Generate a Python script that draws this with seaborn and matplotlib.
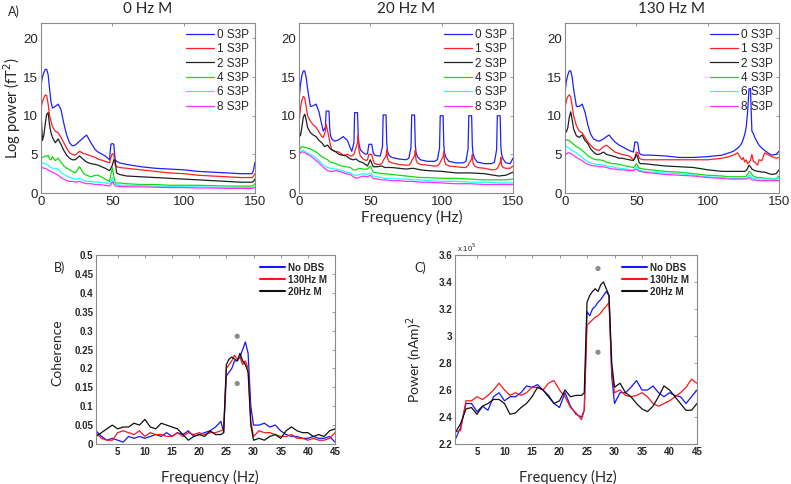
import numpy as np
import matplotlib
matplotlib.use("Agg")
import matplotlib.pyplot as plt
from matplotlib.ticker import FormatStrFormatter
import seaborn as sns

# ---------------- data: panel A (log power spectra) ----------------
labels_a = ["0 S3P", "1 S3P", "2 S3P", "4 S3P", "6 S3P", "8 S3P"]
colors_a = ["#2020ff", "#ff2020", "#202020", "#10dd10", "#20ffff", "#ff30ff"]

# 0 Hz M
freq_0hz = [0, 1, 2, 3, 4, 5, 6, 7, 8, 10, 12, 14, 16, 18, 20, 22, 24, 27, 30, 32,
            35, 38, 40, 45, 48, 49, 50, 51, 52, 53, 55, 60, 70, 80, 90, 100, 110,
            120, 130, 140, 148, 149, 150]
p0_s0 = [14.0, 15.0, 15.6, 16.0, 16.0, 15.3, 13.5, 11.8, 11.0, 11.2, 11.5, 10.8, 9.0, 7.5, 6.5, 6.1, 6.2, 6.7, 7.2, 7.5,
         6.5, 5.6, 5.3, 4.8, 4.3, 6.3, 6.4, 6.3, 4.3, 4.1, 3.9, 3.7, 3.4, 3.2, 3.1, 3.0, 2.8,
         2.7, 2.6, 2.5, 2.5, 3.0, 4.0]
p0_s1 = [11.0, 11.8, 12.3, 12.7, 12.6, 11.5, 10.0, 9.3, 8.6, 8.0, 7.8, 7.2, 6.5, 5.8, 5.2, 5.0, 4.9, 5.4, 5.1, 5.0,
         4.8, 4.6, 4.4, 4.1, 3.9, 4.6, 5.1, 5.0, 3.6, 3.4, 3.3, 3.2, 3.0, 2.8, 2.6, 2.5, 2.3,
         2.2, 2.1, 2.0, 2.0, 2.2, 2.5]
p0_s2 = [10.5, 6.8, 7.5, 9.0, 10.2, 10.4, 8.8, 7.8, 7.2, 6.5, 7.0, 6.3, 5.5, 4.9, 4.5, 4.3, 4.3, 4.8, 4.3, 4.0,
         3.8, 3.7, 3.6, 3.2, 2.9, 3.2, 3.6, 4.3, 4.2, 2.6, 2.4, 2.2, 2.1, 2.0, 1.9, 1.8, 1.7,
         1.6, 1.5, 1.4, 1.4, 1.5, 1.8]
p0_s4 = [4.5, 4.6, 4.7, 4.8, 4.7, 4.9, 4.4, 4.3, 4.7, 4.2, 4.5, 4.0, 3.5, 3.2, 3.0, 2.8, 2.6, 3.4, 2.5, 2.3,
         2.1, 2.3, 2.3, 1.8, 1.5, 2.4, 3.3, 2.2, 1.3, 1.3, 1.3, 1.2, 1.1, 1.1, 1.0, 1.0, 1.0,
         0.95, 0.9, 0.9, 0.9, 1.0, 1.2]
p0_s6 = [3.8, 3.8, 3.9, 3.8, 3.7, 3.6, 3.4, 3.3, 3.2, 3.2, 3.1, 2.7, 2.4, 2.2, 2.0, 1.9, 1.8, 1.9, 1.6, 1.5,
         1.5, 1.4, 1.4, 1.3, 1.2, 1.5, 2.0, 1.5, 1.1, 1.1, 1.0, 1.0, 0.95, 0.9, 0.85, 0.8, 0.8,
         0.75, 0.75, 0.7, 0.7, 0.75, 0.8]
p0_s8 = [3.3, 3.3, 3.2, 3.2, 3.1, 3.0, 2.9, 2.8, 2.7, 2.5, 2.3, 2.0, 1.8, 1.6, 1.5, 1.5, 1.4, 1.5, 1.3, 1.2,
         1.2, 1.1, 1.1, 1.0, 0.9, 1.1, 1.5, 1.2, 0.9, 0.9, 0.85, 0.8, 0.8, 0.75, 0.7, 0.7, 0.65,
         0.65, 0.6, 0.6, 0.6, 0.65, 0.7]

# 20 Hz M: fine grid for the two peaky traces, coarse grid for the others
freq_20hz_fine = [0, 1, 2, 3, 4, 5, 6, 8, 10, 12, 14, 16, 17,
                  18.5, 19, 21, 21.5, 22, 23,
                  25, 28, 31, 34, 36, 37,
                  38.5, 39, 41, 41.5, 42, 43,
                  45, 47, 48, 49, 51, 52, 53, 55, 57,
                  58.5, 59, 61, 61.5, 62, 63,
                  65, 70, 75, 77,
                  78.5, 79, 81, 81.5, 82, 83,
                  85, 90, 95, 97,
                  98.5, 99, 101, 101.5, 102, 103,
                  105, 110, 115, 117,
                  118.5, 119, 121, 121.5, 122, 123,
                  125, 130, 135, 137,
                  138.5, 139, 141, 141.5, 142, 143,
                  145, 148, 150]
p20_s0 = [12.0, 14.0, 15.2, 15.8, 15.8, 15.0, 13.5, 11.2, 11.3, 11.5, 10.5, 8.8, 8.0,
          8.5, 10.6, 10.6, 8.5, 7.5, 7.0,
          6.7, 6.9, 7.3, 6.8, 5.8, 5.4,
          6.5, 10.4, 10.4, 7.5, 6.3, 5.6,
          5.2, 5.0, 5.1, 6.3, 6.3, 5.2, 4.9, 4.8, 4.8,
          6.0, 10.1, 10.1, 6.5, 5.5, 4.9,
          4.6, 4.4, 4.3, 4.5,
          5.9, 10.1, 10.1, 6.3, 5.3, 4.7,
          4.3, 4.1, 4.1, 4.3,
          5.8, 10.0, 10.0, 6.2, 5.2, 4.6,
          4.1, 3.9, 3.9, 4.1,
          5.7, 10.0, 10.0, 6.1, 5.1, 4.5,
          4.0, 3.8, 3.8, 4.0,
          5.6, 10.0, 10.0, 6.0, 5.0, 4.4,
          3.9, 3.8, 4.5]
p20_s1 = [9.0, 11.0, 12.0, 12.5, 12.3, 11.2, 10.0, 9.3, 8.8, 8.5, 7.9, 7.3, 7.2,
          8.0, 8.9, 7.2, 6.7, 6.2, 5.6,
          5.4, 5.3, 4.9, 5.0, 4.8, 4.8,
          5.0, 5.3, 6.5, 7.5, 5.5, 4.8,
          4.4, 4.2, 4.3, 5.0, 5.0, 4.2, 3.8, 3.7, 3.7,
          3.9, 4.2, 4.8, 5.6, 4.5, 4.1,
          3.9, 3.7, 3.6, 3.6,
          3.9, 4.2, 4.8, 5.5, 4.3, 3.9,
          3.7, 3.6, 3.5, 3.5,
          3.8, 4.0, 4.7, 5.4, 4.1, 3.7,
          3.5, 3.4, 3.3, 3.3,
          3.6, 3.8, 4.4, 5.0, 3.9, 3.5,
          3.3, 3.2, 3.0, 3.0,
          3.1, 3.2, 3.9, 4.6, 3.6, 3.3,
          3.2, 3.2, 3.5]
freq_20hz = [0, 1, 2, 3, 4, 5, 6, 8, 10, 12, 14, 16, 18, 20, 22, 24, 26, 28, 30, 33,
             36, 38, 40, 42, 45, 48, 50, 52, 55, 58, 60, 65, 70, 75, 80, 85, 90, 100,
             110, 120, 130, 140, 145, 150]
p20_s2 = [8.0, 7.4, 8.5, 9.8, 10.2, 9.5, 8.5, 7.8, 7.5, 7.3, 6.8, 6.5, 6.0, 6.2, 5.7, 5.5, 5.3, 5.0, 4.9, 4.8,
          4.4, 4.3, 4.4, 4.1, 3.9, 3.5, 4.3, 3.4, 3.4, 3.5, 3.3, 3.3, 3.2, 3.1, 3.2, 3.0, 2.9, 2.8,
          2.6, 2.6, 2.5, 2.2, 2.3, 2.7]
p20_s4 = [5.5, 5.8, 6.0, 6.0, 5.9, 5.9, 5.8, 5.7, 5.5, 5.3, 5.0, 4.7, 4.5, 4.3, 4.0, 3.9, 3.8, 3.6, 3.5, 3.4,
          3.3, 3.0, 3.0, 3.2, 3.1, 3.1, 3.5, 2.7, 2.6, 2.5, 2.5, 2.4, 2.3, 2.2, 2.1, 2.0, 2.0, 1.9,
          1.9, 1.8, 1.7, 1.7, 1.7, 1.8]
p20_s6 = [5.2, 5.4, 5.5, 5.5, 5.4, 5.3, 5.2, 5.0, 4.8, 4.5, 4.2, 3.8, 3.5, 3.3, 3.2, 3.1, 3.1, 3.0, 2.9, 2.7,
          2.6, 2.4, 2.2, 2.4, 2.5, 2.4, 2.6, 2.2, 2.1, 2.0, 1.9, 1.9, 1.8, 1.8, 1.7, 1.7, 1.6, 1.5,
          1.5, 1.4, 1.4, 1.3, 1.3, 1.3]
p20_s8 = [5.0, 5.2, 5.3, 5.3, 5.2, 5.1, 5.0, 4.8, 4.5, 4.2, 3.9, 3.5, 3.2, 2.9, 2.8, 2.8, 2.9, 2.8, 2.7, 2.5,
          2.4, 2.1, 1.9, 2.0, 2.2, 2.1, 2.3, 1.9, 1.8, 1.7, 1.7, 1.6, 1.6, 1.5, 1.5, 1.4, 1.4, 1.3,
          1.2, 1.2, 1.1, 1.1, 1.1, 1.1]

# 130 Hz M
freq_130hz = [0, 1, 2, 3, 4, 5, 6, 8, 10, 12, 14, 16, 18, 20, 22, 24, 27, 29, 31, 33,
              35, 38, 40, 45, 48, 49, 50, 51, 52, 53, 55, 60, 70, 80, 90, 100, 110, 115, 118, 121,
              123, 124, 125, 126, 127, 128, 129, 130, 131, 132, 133, 135, 136, 138, 140, 143, 145, 148, 150]
p130_s0 = [13.0, 14.5, 15.3, 15.8, 15.8, 15.0, 13.5, 11.2, 11.2, 11.5, 10.5, 8.8, 7.6, 7.0, 6.8, 6.7, 7.0, 7.3, 7.5, 7.0,
           6.6, 6.2, 6.0, 5.5, 5.3, 6.6, 6.6, 6.5, 5.2, 5.0, 4.9, 4.9, 4.8, 4.6, 4.6, 4.7, 4.9, 5.2, 5.4, 5.8,
           6.2, 6.5, 7.0, 7.6, 8.5, 10.5, 13.5, 13.5, 8.0, 7.7, 7.2, 6.5, 6.2, 5.8, 5.5, 5.1, 4.9, 5.0, 5.4]
p130_s1 = [11.0, 12.0, 12.5, 12.7, 12.4, 11.3, 10.0, 8.7, 8.0, 7.8, 7.2, 6.6, 6.2, 5.8, 5.6, 5.5, 6.0, 6.2, 5.9, 5.6,
           5.3, 5.1, 5.0, 4.8, 4.3, 4.6, 5.3, 5.2, 4.5, 4.4, 4.3, 4.3, 4.3, 4.3, 4.3, 4.3, 4.5, 4.7, 4.9, 5.2,
           4.6, 4.3, 4.6, 4.0, 4.3, 3.8, 4.0, 4.2, 5.0, 4.1, 4.0, 3.6, 4.3, 4.2, 5.2, 4.9, 4.7, 4.5, 4.6]
p130_s2 = [8.0, 7.9, 8.5, 9.8, 10.5, 9.5, 8.3, 7.4, 7.2, 7.5, 6.8, 6.4, 5.7, 5.3, 5.0, 5.0, 5.3, 5.0, 4.9, 4.8,
           4.7, 4.5, 4.5, 4.3, 4.2, 4.5, 5.0, 4.6, 3.9, 3.8, 3.8, 3.7, 3.5, 3.4, 3.3, 3.0, 2.8, 2.8, 2.8, 2.8,
           2.8, 2.8, 2.8, 2.8, 2.9, 3.2, 3.6, 3.4, 3.1, 3.0, 2.9, 2.8, 2.8, 2.7, 2.7, 2.5, 2.4, 2.5, 3.0]
p130_s4 = [7.0, 6.9, 6.8, 6.8, 6.6, 6.5, 6.3, 6.0, 5.8, 5.5, 5.2, 4.8, 4.6, 4.4, 4.3, 4.3, 4.2, 4.0, 3.9, 3.8,
           3.8, 3.7, 3.6, 3.4, 3.3, 3.5, 3.8, 3.5, 3.2, 3.2, 3.1, 3.0, 2.8, 2.7, 2.5, 2.3, 2.2, 2.1, 2.1, 2.1,
           2.1, 2.1, 2.1, 2.1, 2.2, 2.4, 2.8, 2.7, 2.4, 2.2, 2.1, 2.0, 2.0, 2.0, 1.9, 1.9, 1.8, 1.8, 2.2]
p130_s6 = [6.2, 6.0, 5.9, 5.8, 5.6, 5.5, 5.4, 5.2, 4.9, 4.6, 4.3, 4.0, 3.9, 3.8, 3.7, 3.7, 3.6, 3.5, 3.4, 3.4,
           3.3, 3.2, 3.2, 3.0, 3.0, 3.2, 3.4, 3.2, 2.9, 2.9, 2.8, 2.7, 2.6, 2.5, 2.3, 2.1, 2.0, 1.9, 1.9, 1.9,
           1.9, 1.9, 1.9, 1.9, 2.0, 2.1, 2.3, 2.2, 2.0, 1.9, 1.9, 1.8, 1.8, 1.8, 1.8, 1.8, 1.8, 1.8, 1.8]
p130_s8 = [5.3, 5.0, 5.2, 5.2, 5.1, 5.0, 4.9, 4.6, 4.4, 4.2, 3.9, 3.7, 3.6, 3.5, 3.5, 3.4, 3.4, 3.3, 3.2, 3.1,
           3.1, 3.0, 3.0, 2.9, 2.9, 3.0, 3.1, 3.0, 2.8, 2.8, 2.7, 2.6, 2.4, 2.3, 2.2, 2.0, 1.9, 1.8, 1.8, 1.8,
           1.8, 1.8, 1.8, 1.8, 1.8, 1.9, 2.0, 1.9, 1.7, 1.7, 1.7, 1.6, 1.6, 1.6, 1.6, 1.6, 1.6, 1.6, 1.6]

titles_a = ["0 Hz M", "20 Hz M", "130 Hz M"]

# ---------------- data: panels B and C ----------------
freq_b = [1, 2, 3, 4, 5, 6, 7, 8, 9, 10, 11, 12, 13, 14, 15, 16, 17, 18, 19, 20, 21, 22, 23, 24,
          24.5, 25, 25.5, 26, 26.5, 27, 27.5, 28, 28.5, 29, 29.5, 30,
          31, 32, 33, 34, 35, 36, 37, 38, 39, 40, 41, 42, 43, 44, 45]
labels_b = ["No DBS", "130Hz M", "20Hz M"]
colors_b = ["#1515ff", "#ff1515", "#101010"]

coh_nodbs = [0.035, 0.02, 0.01, 0.015, 0.01, 0.005, 0.02, 0.015, 0.02, 0.015,
             0.02, 0.025, 0.02, 0.03, 0.02, 0.03, 0.025, 0.035, 0.02, 0.025,
             0.03, 0.035, 0.045, 0.06,
             0.03, 0.18, 0.19, 0.20, 0.22, 0.22, 0.23, 0.25, 0.27, 0.24, 0.10, 0.05,
             0.05, 0.055, 0.045, 0.05, 0.035, 0.025, 0.02, 0.02, 0.015, 0.015, 0.02, 0.015, 0.015, 0.02, 0.005]
coh_130 = [0.03, 0.015, 0.01, 0.01, 0.03, 0.035, 0.03, 0.025, 0.035, 0.02,
           0.03, 0.025, 0.025, 0.02, 0.02, 0.03, 0.02, 0.03, 0.025, 0.03,
           0.025, 0.03, 0.03, 0.035,
           0.04, 0.20, 0.21, 0.22, 0.235, 0.225, 0.23, 0.21, 0.22, 0.20, 0.06, 0.02,
           0.035, 0.03, 0.03, 0.025, 0.02, 0.02, 0.025, 0.015, 0.015, 0.01, 0.015, 0.01, 0.01, 0.015, 0.03]
coh_20 = [0.02, 0.03, 0.04, 0.05, 0.04, 0.045, 0.045, 0.055, 0.05, 0.065,
          0.045, 0.04, 0.055, 0.05, 0.045, 0.04, 0.025, 0.01, 0.02, 0.025,
          0.02, 0.035, 0.025, 0.025,
          0.03, 0.21, 0.225, 0.23, 0.225, 0.22, 0.24, 0.22, 0.21, 0.19, 0.05, 0.01,
          0.015, 0.01, 0.02, 0.025, 0.015, 0.035, 0.045, 0.035, 0.03, 0.03, 0.02, 0.025, 0.02, 0.035, 0.04]

# power in units of 1e5 (nAm)^2
pow_nodbs = [2.23, 2.32, 2.50, 2.50, 2.44, 2.48, 2.45, 2.55, 2.58, 2.52,
             2.55, 2.55, 2.58, 2.63, 2.62, 2.64, 2.60, 2.56, 2.50, 2.47,
             2.58, 2.48, 2.42, 2.40,
             2.45, 3.18, 3.15, 3.20, 3.22, 3.25, 3.27, 3.30, 3.33, 3.30, 2.70, 2.50,
             2.58, 2.58, 2.62, 2.67, 2.60, 2.60, 2.63, 2.58, 2.55, 2.58, 2.56, 2.55, 2.50, 2.55, 2.60]
pow_130 = [2.29, 2.30, 2.52, 2.52, 2.55, 2.53, 2.56, 2.60, 2.65, 2.60,
           2.56, 2.58, 2.56, 2.58, 2.62, 2.62, 2.60, 2.65, 2.67, 2.60,
           2.55, 2.47, 2.43, 2.38,
           2.45, 3.08, 3.10, 3.12, 3.14, 3.15, 3.17, 3.20, 3.22, 3.25, 2.75, 2.58,
           2.60, 2.56, 2.55, 2.56, 2.58, 2.55, 2.50, 2.48, 2.50, 2.52, 2.55, 2.58, 2.62, 2.68, 2.65]
pow_20 = [2.28, 2.35, 2.46, 2.47, 2.42, 2.48, 2.50, 2.53, 2.53, 2.50,
          2.42, 2.43, 2.47, 2.50, 2.55, 2.62, 2.60, 2.55, 2.50, 2.52,
          2.60, 2.55, 2.56, 2.56,
          2.58, 3.25, 3.30, 3.33, 3.35, 3.33, 3.38, 3.40, 3.35, 3.30, 2.80, 2.62,
          2.65, 2.58, 2.55, 2.50, 2.46, 2.44, 2.48, 2.55, 2.63, 2.60, 2.55, 2.50, 2.45, 2.45, 2.50]

sig_freq = [27, 27]
coh_marks = [0.285, 0.16]
pow_marks = [3.50, 2.88]

# ---------------- plotting ----------------
sns.set_style("white")
plt.rcParams["font.family"] = ["Liberation Sans", "DejaVu Sans"]
label_font = ["Lato", "DejaVu Sans"]

W, H = 791, 484
fig = plt.figure(figsize=(W / 100, H / 100), dpi=100)


def px_axes(left, top, right, bottom):
    return fig.add_axes([left / W, 1 - bottom / H, (right - left) / W, (bottom - top) / H])


def style_axes(ax, fs, bold=False):
    for s in ax.spines.values():
        s.set_color("#8a8a8a")
        s.set_linewidth(0.8)
    ax.tick_params(direction="in", length=2.5, width=0.6, color="#8a8a8a",
                   labelsize=fs, pad=2, top=True, right=True)
    if bold:
        for lab in ax.get_xticklabels() + ax.get_yticklabels():
            lab.set_fontweight("bold")
    ax.set_xlabel("")
    ax.set_ylabel("")


panel_a = [
    ([freq_0hz] * 6, [p0_s0, p0_s1, p0_s2, p0_s4, p0_s6, p0_s8]),
    ([freq_20hz_fine, freq_20hz_fine, freq_20hz, freq_20hz, freq_20hz, freq_20hz],
     [p20_s0, p20_s1, p20_s2, p20_s4, p20_s6, p20_s8]),
    ([freq_130hz] * 6, [p130_s0, p130_s1, p130_s2, p130_s4, p130_s6, p130_s8]),
]
lefts = [41, 299, 565]
for i, (freqs, series) in enumerate(panel_a):
    ax = px_axes(lefts[i], 23, lefts[i] + 214, 193)
    for f, y, lab, col in zip(freqs, series, labels_a, colors_a):
        sns.lineplot(x=f, y=y, ax=ax, color=col, label=lab, linewidth=0.9,
                     estimator=None, sort=False)
    ax.set_xlim(0, 150)
    ax.set_ylim(0, 22)
    ax.set_xticks([0, 50, 100, 150])
    ax.set_yticks([0, 5, 10, 15, 20])
    style_axes(ax, 9.5)
    ax.set_title(titles_a[i], family=label_font, fontsize=11, pad=7)
    ax.legend(loc="upper right", frameon=False, fontsize=8.5, handlelength=2.3,
              handletextpad=0.3, labelspacing=0.2, borderaxespad=0.3, borderpad=0.2)

fig.text(12 / W, 1 - 108 / H, "Log power (fT$^2$)", rotation=90, ha="center", va="center",
         family=label_font, fontsize=10.5)
fig.text(412 / W, 1 - 217 / H, "Frequency (Hz)", ha="center", va="center",
         family=label_font, fontsize=11)
fig.text(8 / W, 1 - 12 / H, "A)", ha="left", va="center", family=label_font, fontsize=9)

# panel B: coherence
axb = px_axes(96, 255, 335, 444)
for y, lab, col in zip([coh_nodbs, coh_130, coh_20], labels_b, colors_b):
    sns.lineplot(x=freq_b, y=y, ax=axb, color=col, label=lab, linewidth=0.9, estimator=None)
sns.scatterplot(x=sig_freq, y=coh_marks, ax=axb, color="#8c8c8c", s=14, edgecolor="none")
axb.set_xlim(1, 45)
axb.set_ylim(0, 0.5)
axb.set_xticks(range(5, 46, 5))
axb.set_yticks(np.arange(0, 0.501, 0.05))
axb.yaxis.set_major_formatter(FormatStrFormatter("%g"))
style_axes(axb, 7, bold=True)
leg = axb.legend(loc="upper right", frameon=False, fontsize=7, handlelength=2.6,
                 handletextpad=0.3, labelspacing=0.2, borderaxespad=0.4)
for t in leg.get_texts():
    t.set_fontweight("bold")
for l in leg.get_lines():
    l.set_linewidth(1.5)

fig.text(57 / W, 1 - 353 / H, "Coherence", rotation=90, ha="center", va="center",
         family=label_font, fontsize=10)
fig.text(210 / W, 1 - 477 / H, "Frequency (Hz)", ha="center", va="center",
         family=label_font, fontsize=10.5)
fig.text(60 / W, 1 - 268 / H, "B)", ha="center", va="center", family=label_font, fontsize=9)

# panel C: power
axc = px_axes(455, 255, 697, 444)
for y, lab, col in zip([pow_nodbs, pow_130, pow_20], labels_b, colors_b):
    sns.lineplot(x=freq_b, y=y, ax=axc, color=col, label=lab, linewidth=0.9, estimator=None)
sns.scatterplot(x=sig_freq, y=pow_marks, ax=axc, color="#8c8c8c", s=14, edgecolor="none")
axc.set_xlim(1, 45)
axc.set_ylim(2.2, 3.6)
axc.set_xticks(range(5, 46, 5))
axc.set_yticks(np.arange(2.2, 3.61, 0.2))
axc.yaxis.set_major_formatter(FormatStrFormatter("%g"))
style_axes(axc, 7, bold=True)
leg = axc.legend(loc="upper right", frameon=False, fontsize=7, handlelength=2.6,
                 handletextpad=0.3, labelspacing=0.2, borderaxespad=0.4)
for t in leg.get_texts():
    t.set_fontweight("bold")
for l in leg.get_lines():
    l.set_linewidth(1.5)
axc.text(0.01, 1.005, "x 10$^5$", transform=axc.transAxes, ha="left", va="bottom",
         fontsize=5.5)

fig.text(415 / W, 1 - 360 / H, "Power (nAm)$^2$", rotation=90, ha="center", va="center",
         family=label_font, fontsize=10)
fig.text(568 / W, 1 - 477 / H, "Frequency (Hz)", ha="center", va="center",
         family=label_font, fontsize=10.5)
fig.text(420 / W, 1 - 268 / H, "C)", ha="center", va="center", family=label_font, fontsize=9)

fig.savefig("out.png", dpi=100, facecolor="white")
